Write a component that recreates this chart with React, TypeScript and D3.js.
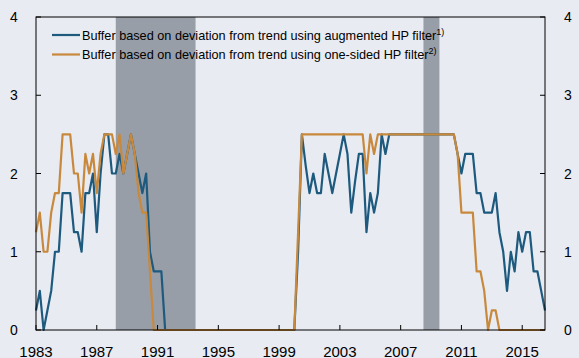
import React from "react";
import * as d3 from "d3";

const START_YEAR = 1983;
const QUARTER = 0.25;

const augmentedHP: number[] = [
  0.25, 0.5, 0, 0.25, 0.5, 1, 1, 1.75, 1.75, 1.75,
  1.25, 1.25, 1, 1.75, 1.75, 2, 1.25, 2, 2.5, 2.5,
  2, 2, 2.25, 2, 2.25, 2.5, 2.25, 2, 1.75, 2,
  1, 0.75, 0.75, 0.75, 0, 0, 0, 0, 0, 0,
  0, 0, 0, 0, 0, 0, 0, 0, 0, 0,
  0, 0, 0, 0, 0, 0, 0, 0, 0, 0,
  0, 0, 0, 0, 0, 0, 0, 0, 0, 1,
  2.5, 2.1, 1.75, 2, 1.75, 1.75, 2.25, 2, 1.75, 2,
  2.25, 2.5, 2.25, 1.5, 1.9, 2.25, 2.25, 1.25, 1.75, 1.5,
  1.75, 2.5, 2.25, 2.5, 2.5, 2.5, 2.5, 2.5, 2.5, 2.5,
  2.5, 2.5, 2.5, 2.5, 2.5, 2.5, 2.5, 2.5, 2.5, 2.5,
  2.5, 2.25, 2, 2.25, 2.25, 2.25, 1.75, 1.75, 1.5, 1.5,
  1.5, 1.75, 1.25, 1, 0.5, 1, 0.75, 1.25, 1, 1.25,
  1.25, 0.75, 0.75, 0.5, 0.25,
];

const oneSidedHP: number[] = [
  1.25, 1.5, 1, 1, 1.5, 1.75, 1.75, 2.5, 2.5, 2.5,
  2, 2, 1.5, 2.25, 2, 2.25, 1.75, 2.25, 2.5, 2.5,
  2.5, 2.25, 2.5, 2, 2.25, 2.5, 2.25, 1.75, 1.5, 1.5,
  0.75, 0, 0, 0, 0, 0, 0, 0, 0, 0,
  0, 0, 0, 0, 0, 0, 0, 0, 0, 0,
  0, 0, 0, 0, 0, 0, 0, 0, 0, 0,
  0, 0, 0, 0, 0, 0, 0, 0, 0, 1.25,
  2.5, 2.5, 2.5, 2.5, 2.5, 2.5, 2.5, 2.5, 2.5, 2.5,
  2.5, 2.5, 2.5, 2.5, 2.5, 2.5, 2.5, 2, 2.5, 2.25,
  2.5, 2.5, 2.5, 2.5, 2.5, 2.5, 2.5, 2.5, 2.5, 2.5,
  2.5, 2.5, 2.5, 2.5, 2.5, 2.5, 2.5, 2.5, 2.5, 2.5,
  2.5, 2.25, 1.5, 1.5, 1.5, 1.5, 0.75, 0.75, 0.5, 0,
  0.25, 0.25, 0, 0, 0, 0, 0, 0, 0, 0,
  0, 0, 0, 0, 0,
];

const xTickYears = [1983, 1987, 1991, 1995, 1999, 2003, 2007, 2011, 2015];
const yTickValues = [0, 1, 2, 3, 4];
const shadedPeriods: [number, number][] = [
  [1988.25, 1993.5],
  [2008.5, 2009.55],
];
const seriesLabels = [
  "Buffer based on deviation from trend using augmented HP filter",
  "Buffer based on deviation from trend using one-sided HP filter",
];
const seriesNotes = ["1)", "2)"];

const W = 579;
const H = 358;
const M = { left: 36, right: 545, top: 17, bottom: 330 };
const BLUE = "#1d5a7e";
const ORANGE = "#c8893d";
const BG = "#e8ebf2";
const SHADE = "#989ea8";
const FONT = "'Liberation Sans', Arial, Helvetica, sans-serif";

export default function App() {
  const x = d3.scaleLinear().domain([1983, 2016.5]).range([M.left, M.right]);
  const y = d3.scaleLinear().domain([0, 4]).range([M.bottom, M.top]);

  const line = d3
    .line<number>()
    .x((_, i) => x(START_YEAR + i * QUARTER))
    .y((d) => y(d));

  const series = [
    { values: augmentedHP, color: BLUE },
    { values: oneSidedHP, color: ORANGE },
  ];

  return (
    <svg
      width={W}
      height={H}
      style={{ position: "absolute", left: 0, top: 0, display: "block" }}
      fontFamily={FONT}
    >
      <rect x={0} y={0} width={W} height={H} fill={BG} />
      {shadedPeriods.map(([a, b], i) => (
        <rect
          key={i}
          x={x(a)}
          y={M.top}
          width={x(b) - x(a)}
          height={M.bottom - M.top}
          fill={SHADE}
        />
      ))}
      {series.map((s, i) => (
        <path
          key={i}
          d={line(s.values) || ""}
          fill="none"
          stroke={s.color}
          strokeWidth={2.2}
          strokeLinejoin="round"
        />
      ))}
      {/* frame */}
      <rect
        x={M.left}
        y={M.top}
        width={M.right - M.left}
        height={M.bottom - M.top}
        fill="none"
        stroke="#000"
        strokeWidth={1}
      />
      {/* y ticks */}
      {yTickValues.map((v) => (
        <g key={v}>
          <line x1={M.left} x2={M.left + 5} y1={y(v)} y2={y(v)} stroke="#000" />
          <line x1={M.right - 5} x2={M.right} y1={y(v)} y2={y(v)} stroke="#000" />
          <text x={14} y={y(v)} dy="0.36em" fontSize={14} textAnchor="middle" fill="#000">
            {v}
          </text>
          <text x={568} y={y(v)} dy="0.36em" fontSize={14} textAnchor="middle" fill="#000">
            {v}
          </text>
        </g>
      ))}
      {/* x ticks */}
      {xTickYears.map((yr) => (
        <g key={yr}>
          <line x1={x(yr)} x2={x(yr)} y1={M.bottom} y2={M.bottom - 5} stroke="#000" />
          <text x={x(yr)} y={357} fontSize={15} textAnchor="middle" fill="#000">
            {yr}
          </text>
        </g>
      ))}
      {/* legend */}
      {series.map((s, i) => {
        const ly = 35 + i * 19.5;
        return (
          <g key={i}>
            <line x1={52} x2={80} y1={ly} y2={ly} stroke={s.color} strokeWidth={2.2} />
            <text x={82} y={ly} dy="0.36em" fontSize={12.7} fill="#000">
              {seriesLabels[i]}
              <tspan fontSize={9} dy="-0.55em">
                {seriesNotes[i]}
              </tspan>
            </text>
          </g>
        );
      })}
    </svg>
  );
}
